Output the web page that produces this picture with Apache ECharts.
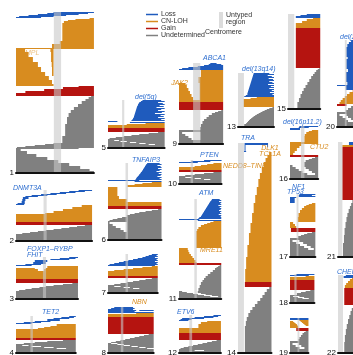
<!DOCTYPE html>
<html>
<head>
<meta charset="utf-8">
<script src="https://cdn.jsdelivr.net/npm/echarts@6/dist/echarts.min.js"></script>
<style>
html,body{margin:0;padding:0;background:#fff;}
#chart{width:353px;height:355px;}
</style>
</head>
<body>
<div id="chart"></div>
<script>
// Chromosome panels: each row is one sample, each step is [sampleCount, start, end, (start2, end2)] in Mb
const chromosomes = ['1','2','3','4','5','6','7','8','9','10','11','12','13','14','15','16','17','18','19','20','21','22'];
const chromLengthMb = [249,243,198,191,181,171,159,146,141,136,135,134,115,107,103,90,81,78,59,63,48,51];
const untypedMb = [[121,144],[88,98],[86,96],[46,54],[45,52],[56,64],[56,64],[41,49],[45,68],[37,45],[49,57],[33,42],[0,19],[0,19],[0,20],[35,46],[21,27],[14,21],[24,30],[25,31],[0,14],[0,16]];
const bandNames = ['Loss','CN-LOH','Gain','Undetermined'];

const loss1 = [[1,120,249],[1,100,230],[1,70,200],[1,40,160],[1,10,120],[1,0,80]];
const cnloh1 = [[1,235,249],[1,190,249],[1,166,249],[2,153,249],[18,148,249],[3,140,249],[4,115,249],[1,0,249],[3,0,29,110,120],[5,0,40,112,120],[5,0,54,112,120],[5,0,70,114,120],[5,0,80,115,120],[4,0,93,115,120],[4,0,105],[4,0,115],[2,0,120]];
const gain1 = [[1,200,249],[2,150,249],[2,90,249],[2,30,249],[3,0,249]];
const undet1 = [[1,240,249],[2,232,249],[2,222,249],[3,210,249],[3,198,249],[3,185,249],[3,175,249],[4,168,249],[7,163,249],[12,157,249],[7,148,249],[1,120,249],[1,93,249],[1,60,249],[1,30,249],[1,3,249],[1,0,200],[2,0,15],[3,0,35],[3,0,65],[3,0,100],[3,0,135],[3,0,170],[3,0,205],[2,0,235],[1,0,249]];

const loss2 = [[1,200,243],[1,170,220],[1,140,190],[1,110,160],[1,80,130],[1,50,100],[1,30,70],[2,22,40],[2,20,30],[2,18,28],[1,5,28],[1,0,26]];
const cnloh2 = [[2,210,243],[2,180,243],[2,150,243],[2,120,243],[1,93,243],[8,0,243]];
const gain2 = [[3,0,243]];
const undet2 = [[1,220,243],[1,195,243],[1,170,243],[1,145,243],[1,120,243],[1,95,243],[1,70,243],[1,45,243],[1,20,243],[6,0,243]];

const loss3 = [[1,170,198],[1,140,190],[1,110,170],[2,60,100],[2,55,95],[1,30,80],[1,0,50]];
const cnloh3 = [[2,100,198],[1,0,60,95,198],[2,0,70,90,198],[8,0,198]];
const gain3 = [[4,0,198]];
const undet3 = [[1,180,198],[1,150,198],[1,120,198],[1,95,198],[1,75,198],[1,50,198],[1,30,198],[1,10,198],[7,0,198]];

const loss4 = [[1,170,191],[1,145,185],[1,120,170],[2,100,140],[1,60,110],[1,25,80],[1,0,50]];
const cnloh4 = [[2,130,191],[1,110,191],[1,90,191],[1,70,191],[9,0,191]];
const gain4 = [[2,0,191]];
const undet4 = [[1,150,191],[1,100,191],[1,60,191],[1,25,191],[1,0,191],[1,0,20,40,191],[1,0,50,80,191],[1,0,90,120,191],[1,0,130,160,191],[3,0,191]];

const loss5 = [[1,110,170],[1,105,181],[1,100,160],[1,98,175],[1,96,181],[1,95,165],[1,93,178],[1,92,155],[1,91,181],[1,90,170],[1,89,160],[1,88,181],[1,87,172],[1,86,150],[1,85,181],[1,84,168],[1,83,178],[1,82,160],[1,80,181],[1,78,170],[1,75,181],[1,0,30],[1,70,181]];
const cnloh5 = [[1,120,181],[1,60,181],[3,0,181]];
const gain5 = [[4,0,181]];
const undet5 = [[1,160,181],[1,130,181],[1,100,181],[1,75,181],[1,50,181],[1,25,181],[1,5,181],[1,0,181],[1,0,20,35,181],[1,0,40,60,181],[1,0,70,90,181],[1,0,100,120,181],[1,0,130,150,181],[2,0,181]];

const loss6 = [[1,125,165],[1,122,171],[1,120,158],[1,118,168],[1,116,171],[1,114,160],[1,112,171],[1,110,165],[1,108,155],[1,105,171],[1,103,162],[1,100,171],[1,98,168],[1,95,158],[1,92,171],[1,90,165],[1,88,171],[1,0,100],[1,85,171]];
const cnloh6 = [[1,140,171],[1,110,171],[1,85,171],[2,62,171],[9,0,30],[3,0,35],[3,0,60],[4,0,171]];
const gain6 = [[3,0,171]];
const undet6 = [[1,160,171],[1,140,171],[1,120,171],[1,100,171],[1,85,171],[1,70,171],[2,60,171],[1,45,171],[1,30,171],[1,15,171],[1,5,171],[1,0,171],[2,0,5,60,171],[2,0,15,60,171],[2,0,25,60,171],[2,0,40,60,171],[2,0,50,60,171],[7,0,171]];

const loss7 = [[1,140,159],[1,130,155],[1,120,159],[1,110,150],[1,95,159],[1,80,155],[1,65,159],[1,50,150],[1,35,159],[1,20,155],[1,5,159],[1,0,150]];
const cnloh7 = [[1,140,159],[1,110,159],[1,80,159],[1,50,159],[1,20,159],[5,0,159]];
const gain7 = [[2,0,159]];
const undet7 = [[1,140,159],[1,120,159],[1,100,159],[1,80,159],[1,60,159],[1,40,159],[1,20,159],[1,0,159],[1,0,20,40,159],[1,0,50,70,159],[1,0,80,100,159],[3,0,159]];

const loss8 = [[1,20,80],[1,10,85],[1,0,80],[1,0,90,100,146],[1,0,85],[1,0,146]];
const cnloh8 = [[1,90,146],[3,0,146]];
const gain8 = [[17,0,146]];
const undet8 = [[1,130,146],[1,115,146],[1,100,146],[1,85,146],[1,70,146],[1,55,146],[1,40,146],[1,25,146],[1,10,146],[1,0,10,30,146],[1,0,30,50,146],[1,0,50,70,146],[1,0,75,95,146],[1,0,100,120,146],[1,0,125,140],[3,0,146]];

const loss9 = [[1,100,120],[1,95,135],[1,80,141],[1,60,141],[1,30,141],[1,10,141],[1,0,141]];
const cnloh9 = [[7,70,141],[6,62,141],[2,0,20,66,141],[3,0,25,66,141],[3,0,30,66,141],[3,0,35,66,141],[3,0,40,66,141],[3,0,45,66,141],[2,0,141]];
const gain9 = [[8,0,141]];
const undet9 = [[1,135,141],[1,125,141],[1,115,141],[2,105,141],[2,95,141],[2,88,141],[2,80,141],[3,75,141],[3,70,141],[3,68,141],[2,0,141],[2,0,10,68,141],[2,0,20,68,141],[2,0,30,68,141],[2,0,40,68,141],[3,0,141]];

const loss10 = [[1,80,136],[1,40,100],[1,0,60]];
const cnloh10 = [[1,110,136],[1,90,136],[1,70,136],[1,50,136],[3,0,136]];
const gain10 = [[2,0,136]];
const undet10 = [[1,110,136],[1,80,136],[1,50,136],[1,20,136],[1,0,136],[1,0,20,40,136],[1,0,50,70,136],[1,0,80,100,136],[3,0,136]];

const loss11 = [[1,105,130],[1,103,135],[1,100,128],[1,98,135],[1,96,132],[1,94,135],[1,92,126],[1,90,135],[1,88,130],[1,86,135],[1,84,133],[1,82,128],[1,80,135],[1,78,131],[1,76,135],[1,74,127],[1,72,135],[1,70,133],[1,65,135],[1,62,135],[1,0,65],[1,60,135]];
const cnloh11 = [[1,110,135],[1,100,135],[1,90,135],[1,80,135],[2,70,135],[2,62,135],[2,58,135],[17,55,135],[2,0,28],[2,0,30],[2,0,33],[2,0,38],[2,0,43],[2,0,48],[2,0,53],[1,0,56]];
const gain11 = [[2,0,135]];
const undet11 = [[1,130,135],[1,125,135],[1,120,135],[2,115,135],[2,108,135],[2,100,135],[2,92,135],[2,85,135],[2,80,135],[2,75,135],[3,70,135],[3,66,135],[3,62,135],[1,0,10,60,135],[1,0,25,60,135],[1,0,45,70,135],[1,0,60,85,135],[1,0,80,105,135],[1,0,100,125,135],[1,0,135]];

const loss12 = [[1,110,134],[1,80,125],[1,50,110],[1,10,80],[1,5,40],[1,0,30]];
const cnloh12 = [[1,90,134],[2,70,134],[4,62,134],[5,0,134]];
const gain12 = [[7,0,134]];
const undet12 = [[1,120,134],[1,105,134],[1,90,134],[1,75,134],[1,60,134],[1,45,134],[1,30,134],[1,15,134],[1,5,134],[1,0,134],[1,0,50,80,134],[1,0,134]];

const loss13 = [[1,50,100],[1,49,115],[1,48,95],[1,47,108],[1,46,115],[1,45,98],[1,44,112],[1,43,115],[1,42,100],[1,41,110],[1,40,115],[1,39,96],[1,38,115],[1,37,105],[1,36,115],[1,35,100],[1,34,115],[1,33,108],[1,32,115],[1,31,102],[1,30,115],[1,30,110],[1,25,115],[1,20,115]];
const cnloh13 = [[1,60,115],[1,40,115],[8,18,115]];
const gain13 = [];
const undet13 = [[1,110,115],[1,100,115],[1,92,115],[1,85,115],[1,78,115],[1,72,115],[1,66,115],[1,60,115],[1,55,115],[1,50,115],[1,46,115],[1,42,115],[1,38,115],[1,35,115],[1,32,115],[1,29,115],[1,26,115],[2,20,115]];

const loss14 = [[2,21,96],[2,21,24,94,96],[4,21,24],[1,19,26]];
const cnloh14 = [[3,100,107],[3,94,107],[4,88,107],[5,82,107],[6,76,107],[6,70,107],[8,65,107],[8,60,107],[8,55,107],[10,50,107],[10,45,107],[10,40,107],[12,35,107],[12,30,107],[12,26,107],[13,23,107]];
const gain14 = [[5,22,107]];
const undet14 = [[2,100,107],[3,92,107],[3,85,107],[3,78,107],[3,71,107],[3,62,107],[3,54,107],[3,46,107],[3,39,107],[4,33,107],[4,28,107],[5,25,107],[26,22,107]];

const loss15 = [[1,60,103],[1,40,103],[2,25,103]];
const cnloh15 = [[1,80,103],[2,60,103],[2,45,103],[5,25,103]];
const gain15 = [[40,25,103]];
const undet15 = [[1,100,103],[1,95,103],[2,90,103],[2,85,103],[2,80,103],[3,74,103],[3,68,103],[3,62,103],[3,56,103],[3,50,103],[3,45,103],[4,40,103],[4,35,103],[6,30,103]];

const loss16 = [[1,30,90],[1,28,60],[2,0,32]];
const cnloh16 = [[1,70,90],[1,60,90],[2,52,90],[2,47,90],[6,46,90],[2,0,90],[2,0,36],[2,0,30],[3,0,22],[2,0,15],[2,0,10]];
const gain16 = [[2,0,90]];
const undet16 = [[1,80,90],[1,70,90],[1,60,90],[2,50,90],[3,46,90],[2,0,8,46,90],[2,0,18,50,90],[2,0,28,60,90],[2,0,40,70,90],[2,0,55,80,90],[3,0,90]];

const loss17 = [[1,30,81],[1,28,70],[1,28,81],[1,0,20],[5,0,15]];
const cnloh17 = [[1,70,81],[1,60,81],[1,52,81],[2,45,81],[2,38,81],[3,32,81],[4,27,81],[5,25,81],[2,0,10],[2,0,16],[2,0,20]];
const gain17 = [[4,3,81]];
const undet17 = [[1,70,81],[1,55,81],[1,45,81],[1,35,81],[2,26,81],[2,0,81],[2,0,8,30,81],[2,0,20,42,81],[2,0,32,54,81],[2,0,45,66,81],[2,0,58,76,81],[6,0,81]];

const loss18 = [[1,20,78],[1,0,60]];
const cnloh18 = [[1,50,78],[3,0,78]];
const gain18 = [[10,0,78]];
const undet18 = [[1,65,78],[1,50,78],[1,35,78],[2,22,78],[1,0,78],[1,0,10,30,78],[1,0,25,45,78],[1,0,40,60,78],[3,0,78]];

const loss19 = [[2,0,59]];
const cnloh19 = [[1,30,59],[1,0,10,34,59],[1,0,14,38,59],[1,0,18,42,59],[1,0,22,46,59],[1,0,24,50,59],[2,0,26]];
const gain19 = [[3,20,59]];
const undet19 = [[1,50,59],[1,45,59],[2,40,59],[2,35,59],[2,30,59],[2,27,59],[2,0,59],[2,0,8,28,59],[2,0,18,36,59],[2,0,30,46,59],[3,0,59]];

const loss20 = [[2,45,63],[2,38,63],[3,33,63],[10,30,63],[2,34,63],[10,30,63],[3,35,63],[10,29,63],[3,33,63],[1,0,63],[4,28,63]];
const cnloh20 = [[2,50,63],[2,40,63],[2,32,63],[2,25,63],[2,18,63],[2,12,63],[2,8,63]];
const gain20 = [[2,0,30]];
const undet20 = [[2,45,63],[2,35,63],[2,28,63],[2,0,63],[2,0,8,30,63],[2,0,18,35,63],[2,0,28,45,63],[2,0,35,55,63],[4,0,63]];

const loss21 = [[3,35,48]];
const cnloh21 = [[2,14,48]];
const gain21 = [[53,14,48]];
const undet21 = [[3,46,48],[3,42,48],[3,38,48],[4,34,48],[4,30,48],[5,27,48],[6,24,48],[7,21,48],[8,19,48],[13,16,48]];

const loss22 = [[1,25,51],[2,18,51]];
const cnloh22 = [[1,45,51],[2,38,51],[2,32,51],[2,26,51],[3,22,51]];
const gain22 = [[17,20,51]];
const undet22 = [[3,48,51],[3,44,51],[4,40,51],[4,36,51],[5,32,51],[5,28,51],[6,25,51],[7,22,51],[10,20,51]];

const bandSteps = [
  [loss1,cnloh1,gain1,undet1],[loss2,cnloh2,gain2,undet2],[loss3,cnloh3,gain3,undet3],[loss4,cnloh4,gain4,undet4],
  [loss5,cnloh5,gain5,undet5],[loss6,cnloh6,gain6,undet6],[loss7,cnloh7,gain7,undet7],[loss8,cnloh8,gain8,undet8],
  [loss9,cnloh9,gain9,undet9],[loss10,cnloh10,gain10,undet10],[loss11,cnloh11,gain11,undet11],[loss12,cnloh12,gain12,undet12],
  [loss13,cnloh13,gain13,undet13],[loss14,cnloh14,gain14,undet14],[loss15,cnloh15,gain15,undet15],[loss16,cnloh16,gain16,undet16],
  [loss17,cnloh17,gain17,undet17],[loss18,cnloh18,gain18,undet18],[loss19,cnloh19,gain19,undet19],[loss20,cnloh20,gain20,undet20],
  [loss21,cnloh21,gain21,undet21],[loss22,cnloh22,gain22,undet22]
];

// Page layout (pixels): panel left edge and top edge; pixels per Mb and per sample
const MB_PX = 0.313;
const ROW_PX = 1;
const panelLayout = [
  [16,12],[16,190],[16,257],[16,316],
  [108,100],[108,163],[108,254],[108,307],
  [179,63],[179,160],[179,199],[179,315],
  [238,73],[238,143],
  [288,14],[290,126],[290,194],[290,274],[290,318],
  [337,40],[338,142],[338,275]
];
const bandColors = ['#1f5bbd','#d88c1f','#b51410','#808080'];
const BLUE_TEXT = '#2f6fd0', ORANGE_TEXT = '#d88c1f';
// gene / region annotations: text, x, y, colour, alignment
const annotations = [
  ['MPL',25,53,'#ecc182','left'],
  ['DNMT3A',13,188,BLUE_TEXT,'left'],
  ['FOXP1–RYBP',27,249,BLUE_TEXT,'left'],
  ['FHIT',27,255,BLUE_TEXT,'left'],
  ['TET2',42,312,BLUE_TEXT,'left'],
  ['del(5q)',135,97,BLUE_TEXT,'left'],
  ['TNFAIP3',132,160,BLUE_TEXT,'left'],
  ['NBN',132,302,ORANGE_TEXT,'left'],
  ['ABCA1',203,58,BLUE_TEXT,'left'],
  ['JAK2',188,83,ORANGE_TEXT,'right'],
  ['PTEN',200,155,BLUE_TEXT,'left'],
  ['NEDD8–TINF2',223,166,ORANGE_TEXT,'left'],
  ['ATM',199,193,BLUE_TEXT,'left'],
  ['MRE11',200,250,ORANGE_TEXT,'left'],
  ['ETV6',177,312,BLUE_TEXT,'left'],
  ['del(13q14)',242,69,BLUE_TEXT,'left'],
  ['TRA',241,138,BLUE_TEXT,'left'],
  ['DLK1',270,148,ORANGE_TEXT,'center'],
  ['TCL1A',270,154,ORANGE_TEXT,'center'],
  ['del(16p11.2)',283,122,BLUE_TEXT,'left'],
  ['CTU2',310,147,ORANGE_TEXT,'left'],
  ['NF1',292,187,BLUE_TEXT,'left'],
  ['TP53',287,192,BLUE_TEXT,'left'],
  ['del(20q)',340,37,BLUE_TEXT,'left'],
  ['CHEK2',337,272,BLUE_TEXT,'left']
];

const FONT = '"Liberation Sans", Arial, sans-serif';

function renderSegment(params, api) {
  const a = api.coord([api.value(0), api.value(2)]);
  const b = api.coord([api.value(1), api.value(3)]);
  return {
    type: 'rect',
    shape: { x: a[0], y: a[1], width: b[0] - a[0], height: b[1] - a[1] },
    style: { fill: api.visual('color') }
  };
}

function renderUntyped(params, api) {
  const a = api.coord([api.value(0), api.value(2)]);
  const b = api.coord([api.value(1), api.value(3)]);
  return {
    type: 'rect',
    shape: { x: a[0], y: a[1], width: b[0] - a[0], height: b[1] - a[1] },
    style: { fill: 'rgba(200,200,200,0.6)' }
  };
}

const grids = [], xAxes = [], yAxes = [], series = [];
chromosomes.forEach((chr, i) => {
  let row = 0;
  const bandData = bandSteps[i].map(steps => {
    const data = [];
    steps.forEach(step => {
      const n = step[0];
      for (let k = 1; k + 1 < step.length; k += 2) data.push([step[k], step[k + 1], row, row + n]);
      row += n;
    });
    return data;
  });
  const total = row;
  const [left, top] = panelLayout[i];
  grids.push({ left, top, width: chromLengthMb[i] * MB_PX, height: total * ROW_PX, outerBoundsMode: 'none', containLabel: false });
  xAxes.push({
    gridIndex: i, type: 'value', min: 0, max: chromLengthMb[i],
    axisLine: { show: true, onZero: false, lineStyle: { color: '#111', width: 2 } },
    offset: 1,
    axisTick: { show: false }, axisLabel: { show: false }, splitLine: { show: false },
    name: chr, nameLocation: 'start', nameGap: 2,
    nameTextStyle: { fontSize: 8, color: '#111', fontFamily: FONT, verticalAlign: 'middle' }
  });
  yAxes.push({ gridIndex: i, type: 'value', min: 0, max: total, inverse: true, show: false });
  bandData.forEach((data, b) => {
    series.push({
      type: 'custom', name: bandNames[b], xAxisIndex: i, yAxisIndex: i,
      itemStyle: { color: bandColors[b] }, renderItem: renderSegment,
      encode: { x: [0, 1], y: [2, 3] }, data, silent: true
    });
  });
  series.push({
    type: 'custom', xAxisIndex: i, yAxisIndex: i, renderItem: renderUntyped,
    encode: { x: [0, 1], y: [2, 3] }, data: [[untypedMb[i][0], untypedMb[i][1], 0, total]], silent: true
  });
});

const graphic = annotations.map(([text, x, y, color, align]) => ({
  type: 'text', left: null, x, y,
  style: { text, fill: color, font: 'italic 7px ' + FONT, textAlign: align, textVerticalAlign: 'middle' },
  silent: true
}));
graphic.push(
  { type: 'rect', shape: { x: 219, y: 12, width: 4, height: 16 }, style: { fill: '#dcdcdc' }, silent: true },
  { type: 'text', x: 226, y: 15, style: { text: 'Untyped', fill: '#333', font: '7px ' + FONT, textVerticalAlign: 'middle' } },
  { type: 'text', x: 226, y: 22, style: { text: 'region', fill: '#333', font: '7px ' + FONT, textVerticalAlign: 'middle' } },
  { type: 'text', x: 205, y: 32, style: { text: 'Centromere', fill: '#333', font: '7px ' + FONT, textVerticalAlign: 'middle' } }
);

const chart = echarts.init(document.getElementById('chart'));
chart.setOption({
  animation: false,
  backgroundColor: '#fff',
  grid: grids,
  xAxis: xAxes,
  yAxis: yAxes,
  legend: {
    data: bandNames.map(name => ({ name, icon: 'rect' })),
    orient: 'vertical', left: 146, top: 11,
    itemWidth: 12, itemHeight: 1.5, itemGap: 0, padding: 0,
    selectedMode: false,
    textStyle: { fontSize: 7, color: '#333', fontFamily: FONT, lineHeight: 7, padding: [0, 0, 0, -2] }
  },
  graphic,
  series
});
</script>
</body>
</html>
